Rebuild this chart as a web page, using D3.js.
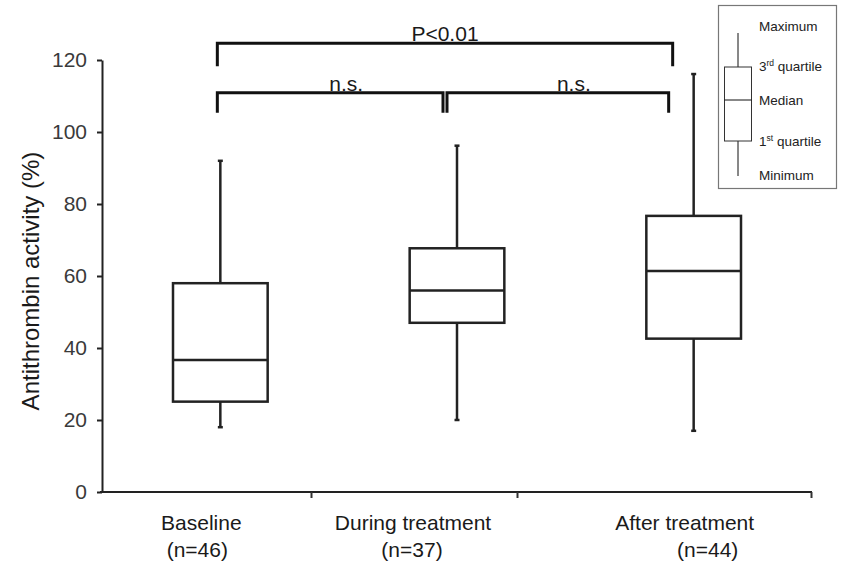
<!DOCTYPE html>
<html>
<head>
<meta charset="utf-8">
<script src="https://cdn.jsdelivr.net/npm/d3@7"></script>
<style>
  body { margin: 0; background: #fff; }
  svg text { font-family: "Liberation Sans", Arial, sans-serif; }
</style>
</head>
<body>
<svg id="chart" width="843" height="565"></svg>
<script>
// data
const categories = ["Baseline", "During treatment", "After treatment"];
const nLabels = ["(n=46)", "(n=37)", "(n=44)"];
const minima = [18, 20, 17];
const q1s = [25.1, 47, 42.6];
const medians = [36.7, 56, 61.4];
const q3s = [58, 67.7, 76.7];
const maxima = [92, 96.2, 116.1];
const yTicks = [0, 20, 40, 60, 80, 100, 120];
const comparisons = [
  { from: 0, to: 2, label: "P<0.01", level: 1 },
  { from: 0, to: 1, label: "n.s.", level: 0 },
  { from: 1, to: 2, label: "n.s.", level: 0 },
];

const svg = d3.select("#chart");
const margin = { top: 60, left: 102, right: 31, bottom: 73 };
const W = 843, H = 565;

const x = d3.scaleBand()
  .domain(categories)
  .range([margin.left, W - margin.right])
  .paddingInner(0)
  .paddingOuter(0);

const y = d3.scaleLinear()
  .domain([0, 120])
  .range([H - margin.bottom, margin.top]);

const boxW = x.bandwidth() * 0.4;
const cx = i => x(categories[i]) + x.bandwidth() / 2;

const boxes = categories.map((c, i) => ({
  cat: c, min: minima[i], q1: q1s[i], med: medians[i], q3: q3s[i], max: maxima[i]
}));

// y axis
const yAxis = svg.append("g")
  .attr("transform", `translate(${margin.left},0)`)
  .call(d3.axisLeft(y).tickValues(yTicks).tickSize(5).tickPadding(10).tickSizeOuter(0));
yAxis.select(".domain").attr("stroke", "#222").attr("stroke-width", 2);
yAxis.selectAll(".tick line").attr("stroke", "#222").attr("stroke-width", 2);
yAxis.selectAll(".tick text")
  .style("font-size", "21px")
  .attr("fill", "#3a3a3a");

// x axis line with irregular interior ticks
const xLine = svg.append("g").attr("transform", `translate(0,${y(0)})`);
xLine.append("line")
  .attr("x1", margin.left - 2).attr("x2", W - margin.right)
  .attr("stroke", "#222").attr("stroke-width", 2);
const tickFrac = [0.296, 0.586, 1];
const xr = d3.scaleLinear().domain([0, 1]).range(x.range());
tickFrac.forEach(f => {
  xLine.append("line")
    .attr("x1", Math.round(xr(f)) - 0.5).attr("x2", Math.round(xr(f)) - 0.5)
    .attr("y1", 0).attr("y2", 6)
    .attr("stroke", "#333").attr("stroke-width", 2);
});

// category labels
const labelShift = [-19, -44, -9];
const nShift = [-23, -45, 14];
svg.selectAll(".cat")
  .data(categories)
  .enter()
  .append("text")
  .attr("class", "cat")
  .attr("x", (d, i) => cx(i) + labelShift[i])
  .attr("y", 530)
  .attr("text-anchor", "middle")
  .style("font-size", "21px")
  .attr("fill", "#1a1a1a")
  .text(d => d);
svg.selectAll(".nlab")
  .data(nLabels)
  .enter()
  .append("text")
  .attr("class", "nlab")
  .attr("x", (d, i) => cx(i) + nShift[i])
  .attr("y", 557)
  .attr("text-anchor", "middle")
  .style("font-size", "21px")
  .attr("fill", "#1a1a1a")
  .text(d => d);

// y axis title
svg.append("text")
  .attr("transform", `translate(39,${y(60) + 5}) rotate(-90)`)
  .attr("text-anchor", "middle")
  .style("font-size", "24px")
  .attr("fill", "#1a1a1a")
  .text("Antithrombin activity (%)");

// boxes
const g = svg.append("g").attr("stroke", "#222").attr("fill", "none");
boxes.forEach((b, i) => {
  const c = cx(i);
  g.append("line").attr("x1", c).attr("x2", c).attr("y1", y(b.max)).attr("y2", y(b.q3)).attr("stroke-width", 2.5);
  g.append("line").attr("x1", c).attr("x2", c).attr("y1", y(b.q1)).attr("y2", y(b.min)).attr("stroke-width", 2.5);
  [b.max, b.min].forEach(v => {
    g.append("line").attr("x1", c - 2.5).attr("x2", c + 2.5).attr("y1", y(v)).attr("y2", y(v)).attr("stroke-width", 2.5);
  });
  g.append("rect")
    .attr("x", c - boxW / 2).attr("y", y(b.q3))
    .attr("width", boxW).attr("height", y(b.q1) - y(b.q3))
    .attr("stroke-width", 2.5);
  g.append("line")
    .attr("x1", c - boxW / 2).attr("x2", c + boxW / 2)
    .attr("y1", y(b.med)).attr("y2", y(b.med))
    .attr("stroke-width", 2.5);
});

// significance brackets
const bx = i => cx(i) - 3 - 9 * i;
const levelY = [92.7, 43.3];
const legLen = [20, 23];
comparisons.forEach(cmp => {
  const lvl = cmp.level;
  const gap = lvl === 0 ? 2 : 0;
  const x1 = bx(cmp.from) + (cmp.from === 1 ? gap : 0);
  const x2 = bx(cmp.to) - (cmp.to === 1 ? gap : 0) - (lvl === 0 && cmp.to === 2 ? 4 : 0);
  const yy = levelY[lvl];
  svg.append("path")
    .attr("d", `M${x1},${yy + legLen[lvl]}V${yy}H${x2}V${yy + legLen[lvl]}`)
    .attr("fill", "none")
    .attr("stroke", "#111")
    .attr("stroke-width", 3);
  svg.append("text")
    .attr("x", (x1 + x2) / 2 + (lvl === 0 ? 16 : 0))
    .attr("y", yy - 2)
    .attr("text-anchor", "middle")
    .style("font-size", "21px")
    .attr("fill", "#1a1a1a")
    .text(cmp.label);
});

// legend
const lg = svg.append("g");
lg.append("rect")
  .attr("x", 718.5).attr("y", 5.5).attr("width", 118).attr("height", 183)
  .attr("fill", "#fff").attr("stroke", "#777").attr("stroke-width", 1.2);
const lc = 738;
lg.append("line").attr("x1", lc).attr("x2", lc).attr("y1", 33).attr("y2", 67).attr("stroke", "#111");
lg.append("line").attr("x1", lc).attr("x2", lc).attr("y1", 141).attr("y2", 176).attr("stroke", "#111");
lg.append("rect").attr("x", 724.5).attr("y", 67).attr("width", 27).attr("height", 74)
  .attr("fill", "none").attr("stroke", "#333");
lg.append("line").attr("x1", 724.5).attr("x2", 751.5).attr("y1", 100).attr("y2", 100).attr("stroke", "#111");

const legendItems = [
  { main: "Maximum", sup: null, rest: null, y: 31 },
  { main: "3", sup: "rd", rest: " quartile", y: 71 },
  { main: "Median", sup: null, rest: null, y: 105 },
  { main: "1", sup: "st", rest: " quartile", y: 146 },
  { main: "Minimum", sup: null, rest: null, y: 180 },
];
legendItems.forEach(it => {
  const t = lg.append("text")
    .attr("x", 759).attr("y", it.y)
    .style("font-size", "13.5px")
    .attr("fill", "#222");
  t.append("tspan").text(it.main);
  if (it.sup) {
    t.append("tspan").attr("dy", -5).style("font-size", "8.5px").text(it.sup);
    t.append("tspan").attr("dy", 5).text(it.rest);
  }
});
</script>
</body>
</html>
